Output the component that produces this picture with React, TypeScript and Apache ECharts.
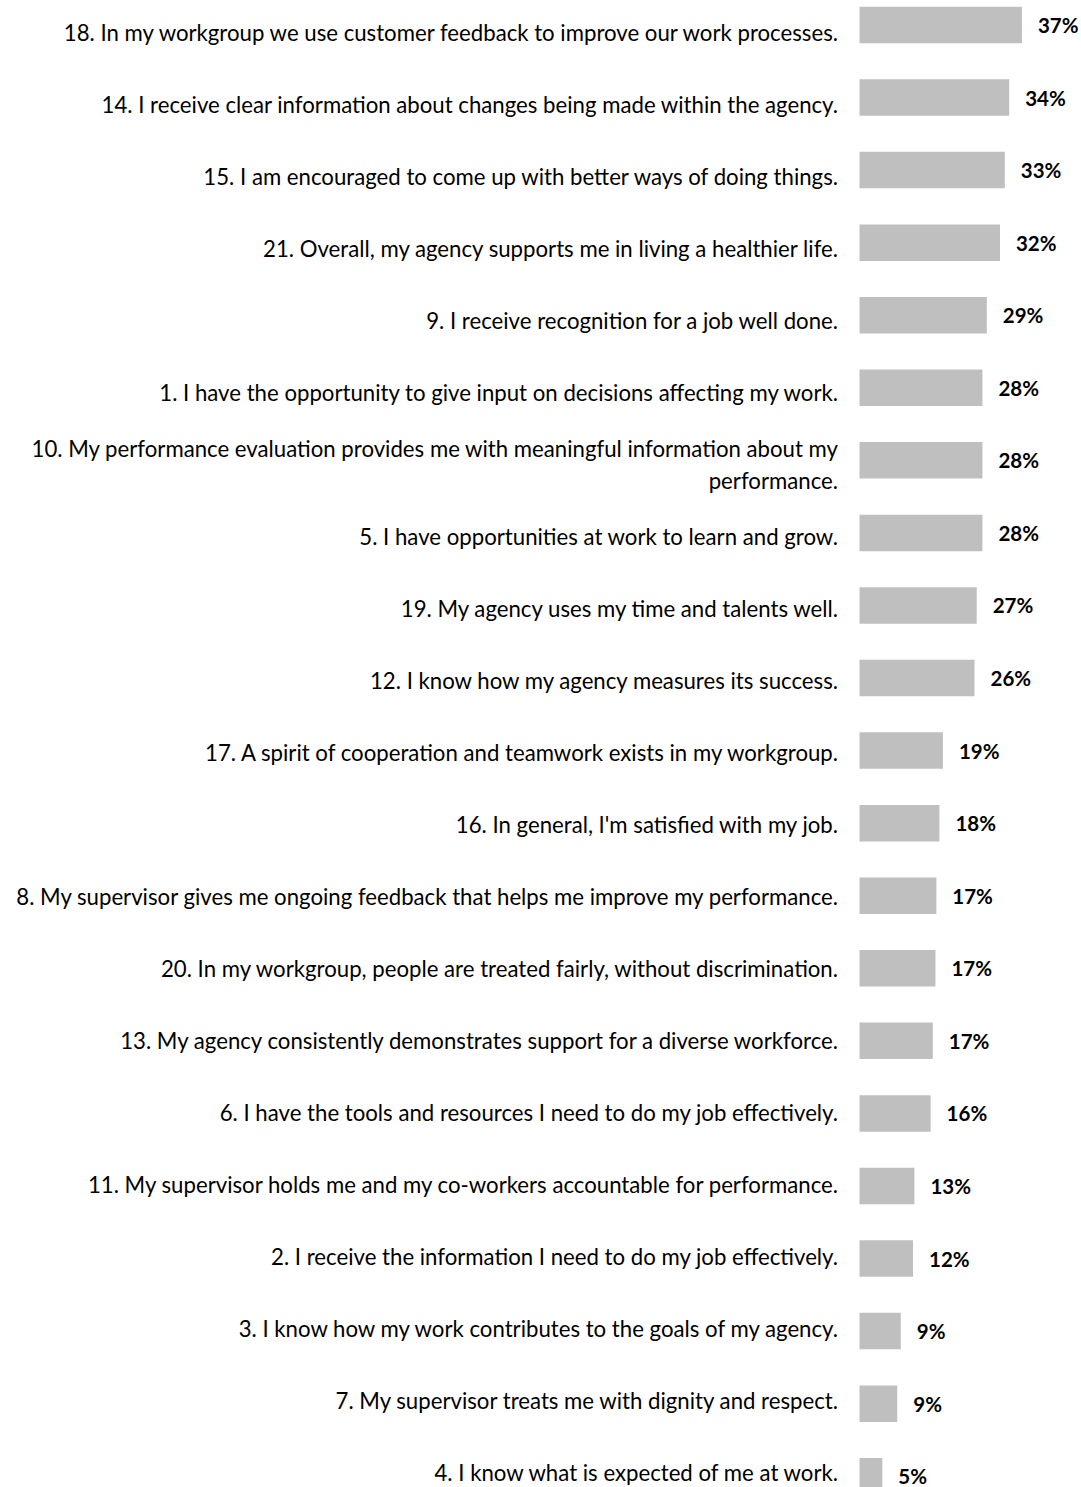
import React, { useEffect, useRef } from "react";
import * as echarts from "echarts";

const categories = [
  "18. In my workgroup we use customer feedback to improve our work processes.",
  "14. I receive clear information about changes being made within the agency.",
  "15. I am encouraged to come up with better ways of doing things.",
  "21. Overall, my agency supports me in living a healthier life.",
  "9. I receive recognition for a job well done.",
  "1. I have the opportunity to give input on decisions affecting my work.",
  "10. My performance evaluation provides me with meaningful information about my\nperformance.",
  "5. I have opportunities at work to learn and grow.",
  "19. My agency uses my time and talents well.",
  "12. I know how my agency measures its success.",
  "17. A spirit of cooperation and teamwork exists in my workgroup.",
  "16. In general, I'm satisfied with my job.",
  "8. My supervisor gives me ongoing feedback that helps me improve my performance.",
  "20. In my workgroup, people are treated fairly, without discrimination.",
  "13. My agency consistently demonstrates support for a diverse workforce.",
  "6. I have the tools and resources I need to do my job effectively.",
  "11. My supervisor holds me and my co-workers accountable for performance.",
  "2. I receive the information I need to do my job effectively.",
  "3. I know how my work contributes to the goals of my agency.",
  "7. My supervisor treats me with dignity and respect.",
  "4. I know what is expected of me at work.",
];

const values = [
  37.0, 34.1, 33.1, 32.0, 29.0, 28.0, 28.0, 28.0, 26.7, 26.2, 19.0, 18.2, 17.5,
  17.3, 16.7, 16.2, 12.5, 12.2, 9.4, 8.6, 5.2,
];

const pctLabels = [
  "37%", "34%", "33%", "32%", "29%", "28%", "28%", "28%", "27%", "26%", "19%",
  "18%", "17%", "17%", "17%", "16%", "13%", "12%", "9%", "9%", "5%",
];

export default function App() {
  const ref = useRef<HTMLDivElement>(null);
  useEffect(() => {
    const chart = echarts.init(ref.current!, null, { renderer: "svg" });
    chart.setOption({
      animation: false,
      backgroundColor: "#ffffff",
      grid: [
        { left: 859.5, right: 45.9, top: 8.72, bottom: 27.5, containLabel: false },
        { left: 859.5, right: 45.9, top: 16.5, bottom: 31.5, containLabel: false },
      ],
      xAxis: [
        { type: "value", gridIndex: 0, min: 0, max: 40, show: false },
        { type: "value", gridIndex: 1, min: 0, max: 40, show: false },
      ],
      yAxis: [
        {
          type: "category",
          gridIndex: 0,
          inverse: true,
          data: categories,
          axisLine: { show: false },
          axisTick: { show: false },
          splitLine: { show: false },
          axisLabel: { show: false },
        },
        {
          type: "category",
          gridIndex: 1,
          inverse: true,
          data: categories,
          axisLine: { show: false },
          axisTick: { show: false },
          splitLine: { show: false },
          axisLabel: {
            fontFamily: "Lato",
            fontSize: 22.2,
            color: "#000000",
            margin: 21.5,
            lineHeight: 32,
            align: "right",
          },
        },
      ],
      series: [
        {
          type: "bar",
          xAxisIndex: 0,
          yAxisIndex: 0,
          data: values,
          barWidth: 36.5,
          itemStyle: { color: "#bfbfbf" },
          label: {
            show: true,
            position: "right",
            distance: 16,
            formatter: (p: any) => pctLabels[p.dataIndex],
            fontFamily: "Lato",
            fontWeight: "bold",
            fontSize: 20.5,
            color: "#000000",
          },
        },
      ],
    });
    return () => chart.dispose();
  }, []);
  return (
    <div
      style={{
        position: "fixed",
        left: 0,
        top: 0,
        width: 1081,
        height: 1487,
        overflow: "hidden",
        background: "#ffffff",
      }}
    >
      <div
        ref={ref}
        style={{ position: "absolute", left: 0, top: -20, width: 1081, height: 1560 }}
      />
    </div>
  );
}
